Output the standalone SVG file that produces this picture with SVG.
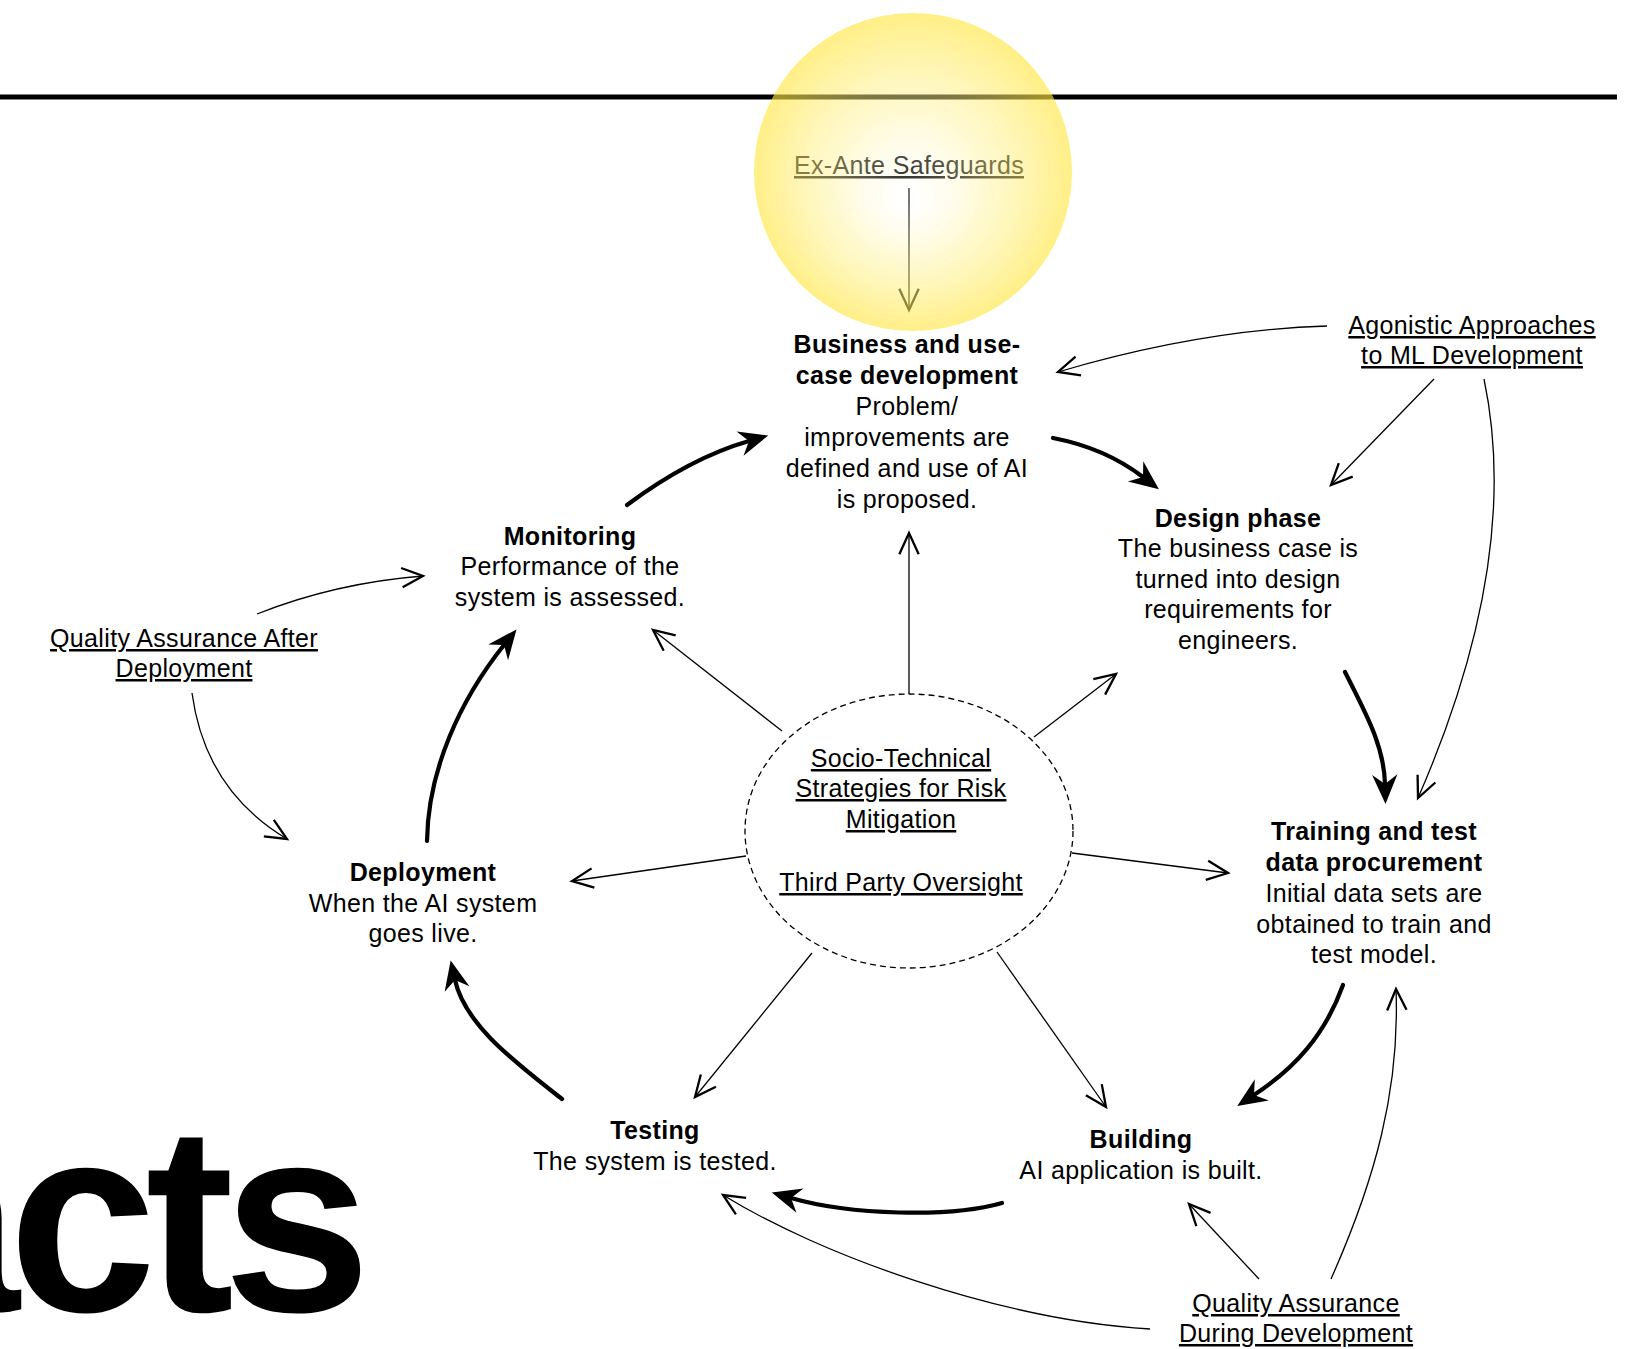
<svg xmlns="http://www.w3.org/2000/svg" width="1650" height="1349" viewBox="0 0 1650 1349">
  <style>
    text { font-family: "Liberation Sans", Arial, Helvetica, sans-serif; font-size: 25px; fill: #000; letter-spacing: 0.35px; }
    .title { font-weight: bold; }
    .link { text-decoration: underline; }
    .thick { fill: none; stroke: #000; stroke-width: 4.2; stroke-linecap: round; marker-end: url(#headSolid); }
    .thin { fill: none; stroke: #000; stroke-width: 1.3; marker-end: url(#headOpen); }
    .big { font-size: 266px; font-weight: bold; letter-spacing: -11px; }
  </style>
  <defs>
    <marker id="headSolid" markerUnits="userSpaceOnUse" markerWidth="40" markerHeight="40" refX="0" refY="0" viewBox="-10 -10 30 20" orient="auto" overflow="visible">
      <path d="M15,0 L-7,-9.5 L0,0 L-7,9.5 Z" fill="#000"/>
    </marker>
    <marker id="headOpen" markerUnits="userSpaceOnUse" markerWidth="30" markerHeight="30" refX="0" refY="0" viewBox="-15 -8 17 16" orient="auto" overflow="visible">
      <path d="M-12,-5.5 L0,0 L-12,5.5" fill="none" stroke="#000" stroke-width="1.3"/>
    </marker>
    <radialGradient id="glow" gradientUnits="userSpaceOnUse" cx="913" cy="172" r="160" fx="907" fy="198">
      <stop offset="0" stop-color="#ffffff" stop-opacity="0.15"/>
      <stop offset="0.45" stop-color="#fff3a0" stop-opacity="0.45"/>
      <stop offset="1" stop-color="#ffe640" stop-opacity="0.64"/>
    </radialGradient>
  </defs>

  <!-- heading rule and large title fragment -->
  <g id="backdrop">
    <rect x="0" y="94.5" width="1617" height="5" fill="#000"/>
    <text class="big" x="360" y="1311" text-anchor="end">acts</text>
  </g>

  <!-- connectors -->
  <g id="connectors">
    <!-- main lifecycle -->
    <path class="thick" d="M1053,438 Q1105,448 1143,477"/>
    <path class="thick" d="M1345,672 C1365,712 1384,745 1385,784"/>
    <path class="thick" d="M1343,985 C1325,1035 1295,1068 1254,1095"/>
    <path class="thick" d="M1002,1203 C950,1218 850,1215 791,1198"/>
    <path class="thick" d="M562,1099 C515,1062 465,1025 455,980"/>
    <path class="thick" d="M427,841 C428,770 460,700 504,645"/>
    <path class="thick" d="M627,505 Q690,458 749,441"/>

    <!-- safeguards and strategies -->
    <path class="thin" d="M909,188 L909,310"/>
    <path class="thin" d="M1327,326 Q1200,330 1058,372"/>
    <path class="thin" d="M1434,379 L1331,485"/>
    <path class="thin" d="M1484,379 Q1522,560 1418,798"/>
    <path class="thin" d="M257,614 Q335,583 423,576"/>
    <path class="thin" d="M192,693 Q205,790 287,839"/>
    <path class="thin" d="M909,694 L909,533"/>
    <path class="thin" d="M782,731 L653,630"/>
    <path class="thin" d="M1034,737 L1116,674"/>
    <path class="thin" d="M746,856 L572,881"/>
    <path class="thin" d="M1072,853 L1228,873"/>
    <path class="thin" d="M812,953 L695,1097"/>
    <path class="thin" d="M997,952 L1106,1107"/>
    <path class="thin" d="M1259,1279 L1189,1204"/>
    <path class="thin" d="M1331,1279 C1375,1180 1400,1090 1396,989"/>
    <path class="thin" d="M1150,1329 C1000,1320 820,1255 723,1195"/>
  </g>

  <!-- lifecycle stages -->
  <g id="business" text-anchor="middle">
    <text class="title" x="907" y="353">Business and use-</text>
    <text class="title" x="907" y="384">case development</text>
    <text x="907" y="415">Problem/</text>
    <text x="907" y="446">improvements are</text>
    <text x="907" y="477">defined and use of AI</text>
    <text x="907" y="508">is proposed.</text>
  </g>
  <g id="design" text-anchor="middle">
    <text class="title" x="1238" y="527">Design phase</text>
    <text x="1238" y="557">The business case is</text>
    <text x="1238" y="588">turned into design</text>
    <text x="1238" y="618">requirements for</text>
    <text x="1238" y="649">engineers.</text>
  </g>
  <g id="training" text-anchor="middle">
    <text class="title" x="1374" y="840">Training and test</text>
    <text class="title" x="1374" y="871">data procurement</text>
    <text x="1374" y="902">Initial data sets are</text>
    <text x="1374" y="933">obtained to train and</text>
    <text x="1374" y="963">test model.</text>
  </g>
  <g id="building" text-anchor="middle">
    <text class="title" x="1141" y="1148">Building</text>
    <text x="1141" y="1179">AI application is built.</text>
  </g>
  <g id="testing" text-anchor="middle">
    <text class="title" x="655" y="1139">Testing</text>
    <text x="655" y="1170">The system is tested.</text>
  </g>
  <g id="deployment" text-anchor="middle">
    <text class="title" x="423" y="881">Deployment</text>
    <text x="423" y="912">When the AI system</text>
    <text x="423" y="942">goes live.</text>
  </g>
  <g id="monitoring" text-anchor="middle">
    <text class="title" x="570" y="545">Monitoring</text>
    <text x="570" y="575">Performance of the</text>
    <text x="570" y="606">system is assessed.</text>
  </g>

  <!-- mitigation strategies -->
  <g id="socio-technical" text-anchor="middle">
    <ellipse cx="909" cy="831" rx="164" ry="137" fill="none" stroke="#000" stroke-width="1.3" stroke-dasharray="6,4"/>
    <text class="link" x="901" y="767">Socio-Technical</text>
    <text class="link" x="901" y="797">Strategies for Risk</text>
    <text class="link" x="901" y="828">Mitigation</text>
    <text class="link" x="901" y="891">Third Party Oversight</text>
  </g>
  <g id="agonistic" text-anchor="middle">
    <text class="link" x="1472" y="334">Agonistic Approaches</text>
    <text class="link" x="1472" y="364">to ML Development</text>
  </g>
  <g id="qa-after" text-anchor="middle">
    <text class="link" x="184" y="647">Quality Assurance After</text>
    <text class="link" x="184" y="677">Deployment</text>
  </g>
  <g id="qa-during" text-anchor="middle">
    <text class="link" x="1296" y="1312">Quality Assurance</text>
    <text class="link" x="1296" y="1342">During Development</text>
  </g>
  <g id="ex-ante" text-anchor="middle">
    <text class="link" x="909" y="174">Ex-Ante Safeguards</text>
    <circle cx="913" cy="172" r="159" fill="url(#glow)"/>
  </g>
</svg>
